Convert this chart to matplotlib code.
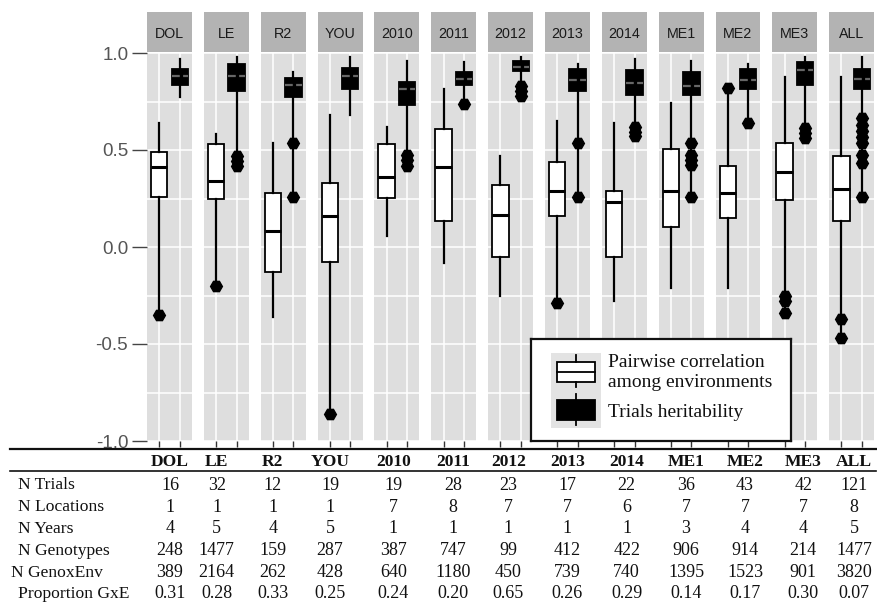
import matplotlib
matplotlib.use("Agg")
import matplotlib.pyplot as plt
from matplotlib.lines import Line2D
from matplotlib.patches import Rectangle

# ---------------------------------------------------------------- data
envs = ["DOL", "LE", "R2", "YOU", "2010", "2011", "2012", "2013", "2014",
        "ME1", "ME2", "ME3", "ALL"]

# pairwise correlation among environments (white boxes)
corr_low = [-0.35, -0.20, -0.36, -0.86, 0.055, -0.085, -0.25, -0.29, -0.28,
            -0.21, -0.21, -0.34, -0.47]
corr_q1 = [0.26, 0.25, -0.13, -0.075, 0.255, 0.135, -0.05, 0.16, -0.05,
           0.105, 0.15, 0.24, 0.135]
corr_med = [0.41, 0.34, 0.08, 0.16, 0.36, 0.41, 0.165, 0.29, 0.23,
            0.29, 0.28, 0.385, 0.30]
corr_q3 = [0.49, 0.53, 0.28, 0.33, 0.53, 0.61, 0.32, 0.44, 0.29,
           0.505, 0.415, 0.535, 0.47]
corr_high = [0.64, 0.58, 0.535, 0.68, 0.62, 0.815, 0.47, 0.65, 0.64,
             0.74, 0.82, 0.875, 0.875]
corr_out = [[-0.35], [-0.20], [], [-0.86], [], [], [], [-0.29], [],
            [], [0.82], [-0.25, -0.28, -0.34], [-0.37, -0.47]]

# trials heritability (black boxes)
her_low = [0.775, 0.42, 0.26, 0.68, 0.42, 0.735, 0.78, 0.26, 0.57,
           0.26, 0.64, 0.56, 0.26]
her_q1 = [0.835, 0.805, 0.775, 0.815, 0.73, 0.835, 0.905, 0.805, 0.785,
          0.785, 0.815, 0.835, 0.815]
her_med = [0.88, 0.88, 0.835, 0.88, 0.815, 0.865, 0.93, 0.86, 0.845,
           0.83, 0.86, 0.91, 0.865]
her_q3 = [0.915, 0.945, 0.87, 0.925, 0.85, 0.90, 0.96, 0.915, 0.91,
          0.90, 0.915, 0.955, 0.915]
her_high = [0.97, 0.98, 0.90, 0.98, 0.96, 0.955, 0.98, 0.945, 0.97,
            0.96, 0.945, 0.98, 0.98]
her_out = [[], [0.47, 0.445, 0.42], [0.535, 0.26], [], [0.475, 0.45, 0.42],
           [0.735], [0.83, 0.805, 0.78], [0.535, 0.26], [0.62, 0.595, 0.57],
           [0.535, 0.475, 0.45, 0.425, 0.26], [0.64], [0.615, 0.59, 0.56],
           [0.665, 0.63, 0.60, 0.565, 0.535, 0.475, 0.435, 0.26]]

# summary table
row_names = ["N Trials", "N Locations", "N Years", "N Genotypes",
             "N GenoxEnv", "Proportion GxE"]
n_trials = [16, 32, 12, 19, 19, 28, 23, 17, 22, 36, 43, 42, 121]
n_locations = [1, 1, 1, 1, 7, 8, 7, 7, 6, 7, 7, 7, 8]
n_years = [4, 5, 4, 5, 1, 1, 1, 1, 1, 3, 4, 4, 5]
n_genotypes = [248, 1477, 159, 287, 387, 747, 99, 412, 422, 906, 914, 214, 1477]
n_genoxenv = [389, 2164, 262, 428, 640, 1180, 450, 739, 740, 1395, 1523, 901, 3820]
prop_gxe = [0.31, 0.28, 0.33, 0.25, 0.24, 0.20, 0.65, 0.26, 0.29,
            0.14, 0.17, 0.30, 0.07]

y_ticks = [-1.0, -0.5, 0.0, 0.5, 1.0]
legend_labels = ["Pairwise correlation\namong environments", "Trials heritability"]

# ---------------------------------------------------------------- layout
W, H = 877, 603
fig = plt.figure(figsize=(W / 100, H / 100), dpi=100)
fig.patch.set_facecolor("white")


def px_rect(x0, y0, x1, y1):
    return [x0 / W, 1 - y1 / H, (x1 - x0) / W, (y1 - y0) / H]


def fx(x):
    return x / W


def fy(y):
    return 1 - y / H


SANS = "Liberation Sans"
SERIF = "Liberation Serif"
PANEL_BG = "#dedede"
STRIP_BG = "#b3b3b3"

panel_left0, panel_pitch, panel_w = 147.0, 56.85, 45.0
panel_top, panel_bot = 53.0, 441.0
strip_top, strip_bot = 12.0, 51.5

for i, env in enumerate(envs):
    left = panel_left0 + i * panel_pitch

    # facet strip
    sax = fig.add_axes(px_rect(left, strip_top, left + panel_w, strip_bot))
    sax.set_facecolor(STRIP_BG)
    sax.set_xticks([])
    sax.set_yticks([])
    for sp in sax.spines.values():
        sp.set_visible(False)
    sax.text(0.5, 0.44, env, ha="center", va="center", fontsize=10.3,
             family=SANS, color="#1a1a1a", transform=sax.transAxes)

    # panel
    ax = fig.add_axes(px_rect(left, panel_top, left + panel_w, panel_bot))
    ax.set_facecolor(PANEL_BG)
    ax.set_ylim(-1.0, 1.0)
    ax.set_yticks(y_ticks)
    ax.set_yticks([-0.75, -0.25, 0.25, 0.75], minor=True)
    ax.grid(True, which="both", color="white", linewidth=1.1)
    ax.set_axisbelow(True)
    for sp in ax.spines.values():
        sp.set_visible(False)
    ax.tick_params(axis="x", length=4, width=1.0, color="#333333", direction="out")
    ax.tick_params(axis="y", which="minor", length=0)
    if i == 0:
        ax.set_yticklabels([f"{v:.1f}" for v in y_ticks])
        ax.tick_params(axis="y", which="major", length=10.5, width=1.0,
                       color="#444444", pad=3, labelsize=13.5,
                       labelcolor="#555555")
        for lab in ax.get_yticklabels():
            lab.set_family(SANS)
    else:
        ax.set_yticklabels([])
        ax.tick_params(axis="y", which="major", length=0)

    corr_stats = [dict(whislo=corr_low[i], q1=corr_q1[i], med=corr_med[i],
                       q3=corr_q3[i], whishi=corr_high[i], fliers=corr_out[i])]
    her_stats = [dict(whislo=her_low[i], q1=her_q1[i], med=her_med[i],
                      q3=her_q3[i], whishi=her_high[i], fliers=her_out[i])]
    flier = dict(marker="H", markerfacecolor="black", markeredgecolor="black",
                 markersize=8.5, linestyle="none")
    ax.bxp(corr_stats, positions=[1], widths=0.8, patch_artist=True,
           showcaps=False,
           boxprops=dict(facecolor="white", edgecolor="black", linewidth=1.3),
           whiskerprops=dict(color="black", linewidth=1.6),
           medianprops=dict(color="black", linewidth=2.2),
           flierprops=flier, zorder=3)
    ax.bxp(her_stats, positions=[2], widths=0.8, patch_artist=True,
           showcaps=False,
           boxprops=dict(facecolor="black", edgecolor="black", linewidth=1.3),
           whiskerprops=dict(color="black", linewidth=1.6),
           medianprops=dict(color="#666666", linewidth=1.6,
                            linestyle=(0, (3.5, 1.5))),
           flierprops=flier, zorder=3)
    ax.set_xlim(0.4, 2.6)
    ax.set_xticks([1, 2])
    ax.set_xticklabels(["", ""])

# ---------------------------------------------------------------- legend
lax = fig.add_axes(px_rect(531, 339, 791, 441))
lax.set_zorder(20)
lax.set_xlim(531, 791)
lax.set_ylim(441, 339)
lax.set_facecolor("white")
lax.set_xticks([])
lax.set_yticks([])
for sp in lax.spines.values():
    sp.set_linewidth(1.6)
    sp.set_color("#111111")
lax.add_patch(Rectangle((551, 353), 50, 75, facecolor="#e3e3e3", edgecolor="none"))
# white key glyph
lax.plot([576, 576], [355, 362], color="black", lw=1.3)
lax.plot([576, 576], [382, 387], color="black", lw=1.3)
lax.add_patch(Rectangle((557, 362), 38, 20, facecolor="white",
                        edgecolor="black", lw=1.3))
lax.plot([557, 595], [371.5, 371.5], color="black", lw=1.3)
# black key glyph
lax.plot([576, 576], [394, 400], color="black", lw=1.3)
lax.plot([576, 576], [420, 425], color="black", lw=1.3)
lax.add_patch(Rectangle((557, 400), 38, 20, facecolor="black",
                        edgecolor="black", lw=1.3))
lax.text(608, 372.5, legend_labels[0], ha="left", va="center", family=SERIF,
         fontsize=14, linespacing=1.2, color="#111111")
lax.text(608, 412.5, legend_labels[1], ha="left", va="center", family=SERIF,
         fontsize=14, color="#111111")

# ---------------------------------------------------------------- table
fig.add_artist(Line2D([fx(10), fx(876)], [fy(449.3)] * 2, color="#111111",
                      lw=1.6, transform=fig.transFigure))
fig.add_artist(Line2D([fx(10), fx(876)], [fy(471)] * 2, color="#111111",
                      lw=1.2, transform=fig.transFigure))

col_x = [170, 216.7, 272.7, 330, 393.3, 453.3, 508.3, 567.3, 626.7, 686,
         745, 803.3, 854]
row_y = [485.0, 507.0, 528.8, 550.8, 572.6, 594.0]
row_x = [18, 18, 18, 18, 11, 18]
LFS = 12.6   # row labels and header
NFS = 13.0   # numbers

for x, env in zip(col_x, envs):
    fig.text(fx(x), fy(462.3), env, ha="center", va="center", family=SERIF,
             fontsize=LFS, fontweight="bold", color="#111111")

rows = [[str(v) for v in n_trials],
        [str(v) for v in n_locations],
        [str(v) for v in n_years],
        [str(v) for v in n_genotypes],
        [str(v) for v in n_genoxenv],
        [f"{v:.2f}" for v in prop_gxe]]

for name, vals, y, x0 in zip(row_names, rows, row_y, row_x):
    fig.text(fx(x0), fy(y), name, ha="left", va="center", family=SERIF,
             fontsize=LFS, color="#111111")
    for x, s in zip(col_x, vals):
        fig.text(fx(x), fy(y), s, ha="center", va="center", family=SERIF,
                 fontsize=NFS, color="#111111")

fig.savefig("out.png", dpi=100, facecolor="white")
